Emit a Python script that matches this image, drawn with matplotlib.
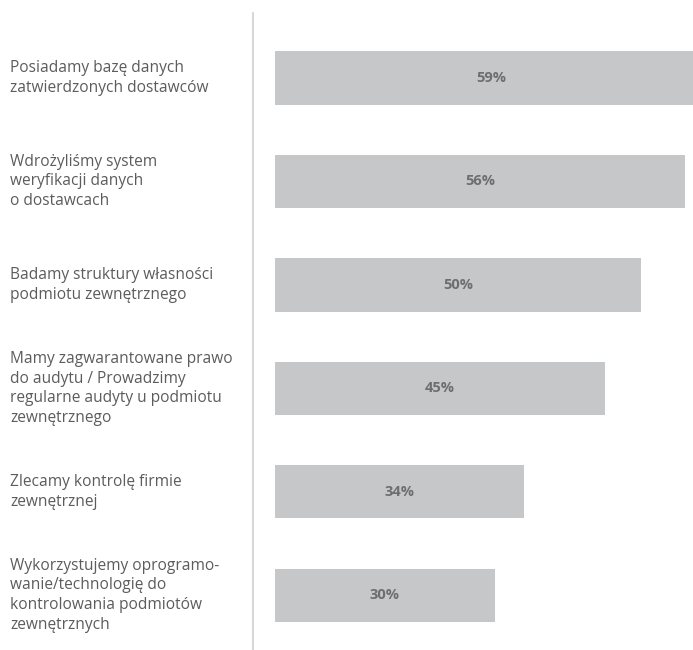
import matplotlib
matplotlib.use("Agg")
import matplotlib.pyplot as plt
import matplotlib.transforms as mtransforms

categories = [
    "Posiadamy bazę danych\nzatwierdzonych dostawców",
    "Wdrożyliśmy system\nweryfikacji danych\no dostawcach",
    "Badamy struktury własności\npodmiotu zewnętrznego",
    "Mamy zagwarantowane prawo\ndo audytu / Prowadzimy\nregularne audyty u podmiotu\nzewnętrznego",
    "Zlecamy kontrolę firmie\nzewnętrznej",
    "Wykorzystujemy oprogramo-\nwanie/technologię do\nkontrolowania podmiotów\nzewnętrznych",
]
values = [59, 56, 50, 45, 34, 30]
value_labels = ["59%", "56%", "50%", "45%", "34%", "30%"]

W, H = 693, 650
plt.rcParams['font.family'] = ['Open Sans', 'DejaVu Sans']
fig = plt.figure(figsize=(W / 100, H / 100), dpi=100)

ax_left = 253 / W
ax_top = 13 / H
ax = fig.add_axes([ax_left, 0, 1 - ax_left, 1 - ax_top])

pos = list(range(len(values)))
ax.barh(pos, values, height=0.515, color="#c6c7c9", left=0)
ax.set_xlim(-3.0, -3.0 + 440 / 7.33)
ax.set_ylim(5.53, -0.629)

for i, (v, lab) in enumerate(zip(values, value_labels)):
    ax.text(v / 2, i, lab, ha="center", va="center", fontsize=10.5,
            fontweight="bold", color="#6e6e6e")

for s in ["top", "right", "bottom"]:
    ax.spines[s].set_visible(False)
ax.spines["left"].set_color("#cfcfcf")
ax.spines["left"].set_linewidth(1.2)
ax.spines["left"].set_position(("data", -3.0))
ax.set_xticks([])
ax.set_yticks([])

trans = mtransforms.blended_transform_factory(fig.transFigure, ax.transData)
for i, cat in enumerate(categories):
    ax.text(10 / W, i, cat, transform=trans,
            ha="left", va="center", fontsize=11.2, color="#5c5c5c", linespacing=1.3)

fig.savefig("out.png", dpi=100)
